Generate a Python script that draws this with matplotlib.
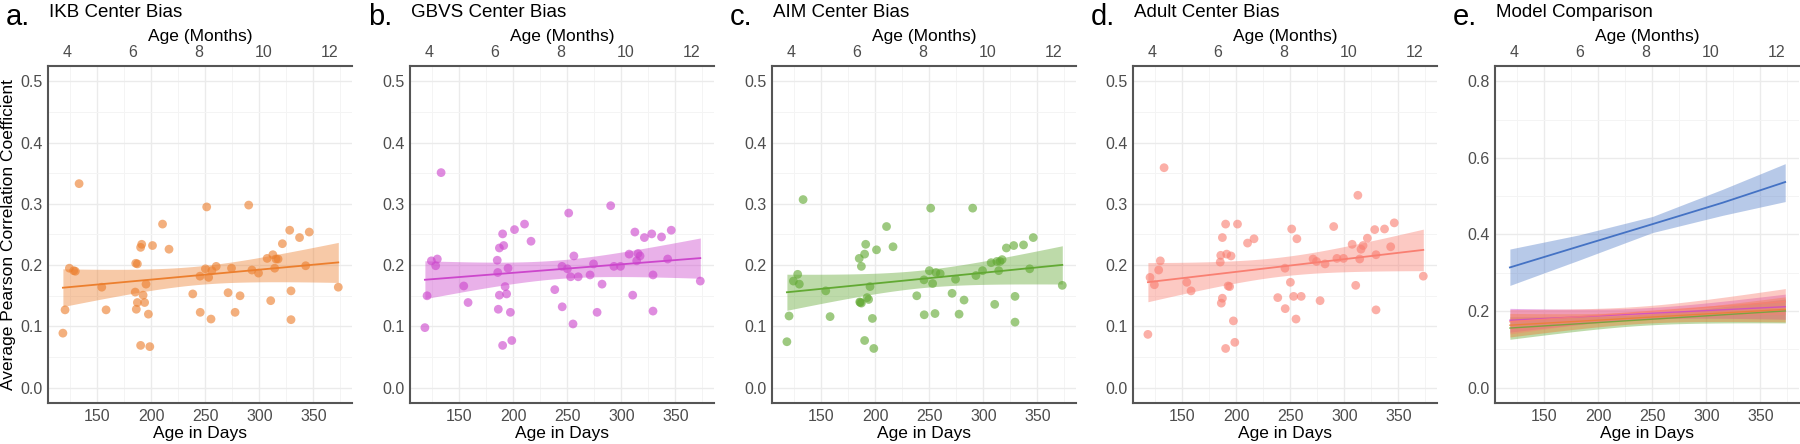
import numpy as np
import matplotlib
matplotlib.use('Agg')
import matplotlib.pyplot as plt
from matplotlib.ticker import MultipleLocator, FixedLocator

plt.rcParams['font.family'] = ['Liberation Sans', 'DejaVu Sans']

# ---------------- data ----------------
age_days = [118, 120, 124, 128, 129.5, 133, 154, 158, 185, 185.5, 186, 187, 187,
            190, 190, 191, 192.3, 193.7, 195, 197.2, 198.5, 201, 210.3, 216.3,
            238.3, 245, 245.2, 250, 251.2, 253, 255.2, 256, 260, 271, 274.2,
            277.5, 282.1, 290.1, 293.1, 299.2, 307.2, 310.5, 312.5, 314.2,
            315.4, 317.3, 321.3, 328.1, 329.3, 329.3, 337.2, 342.9, 346.2, 373.1]

ikb = [0.089, 0.127, 0.195, 0.191, 0.190, 0.333, 0.164, 0.127, 0.156, 0.203,
       0.128, 0.202, 0.139, 0.069, 0.229, 0.234, 0.151, 0.139, 0.169, 0.120,
       0.067, 0.232, 0.267, 0.226, 0.153, 0.182, 0.123, 0.194, 0.295, 0.180,
       0.112, 0.191, 0.198, 0.155, 0.195, 0.123, 0.150, 0.298, 0.192, 0.187,
       0.211, 0.142, 0.217, 0.195, 0.210, 0.210, 0.235, 0.257, 0.158, 0.111,
       0.245, 0.199, 0.254, 0.164]

gbvs = [0.098, 0.150, 0.207, 0.199, 0.210, 0.351, 0.166, 0.139, 0.208, 0.188,
        0.128, 0.151, 0.228, 0.069, 0.251, 0.232, 0.165, 0.153, 0.195, 0.123,
        0.077, 0.258, 0.267, 0.239, 0.160, 0.198, 0.132, 0.194, 0.285, 0.181,
        0.104, 0.215, 0.181, 0.184, 0.202, 0.123, 0.169, 0.297, 0.198, 0.198,
        0.218, 0.151, 0.254, 0.207, 0.219, 0.215, 0.245, 0.251, 0.184, 0.125,
        0.246, 0.210, 0.257, 0.174]

aim = [0.075, 0.117, 0.174, 0.185, 0.169, 0.307, 0.158, 0.116, 0.211, 0.140,
       0.139, 0.198, 0.138, 0.077, 0.218, 0.234, 0.147, 0.144, 0.165, 0.113,
       0.064, 0.225, 0.263, 0.230, 0.150, 0.176, 0.119, 0.191, 0.293, 0.170,
       0.121, 0.188, 0.186, 0.154, 0.177, 0.120, 0.143, 0.293, 0.183, 0.191,
       0.204, 0.136, 0.206, 0.191, 0.206, 0.209, 0.228, 0.232, 0.149, 0.107,
       0.233, 0.194, 0.245, 0.167]

adult = [0.087, 0.180, 0.168, 0.192, 0.207, 0.359, 0.172, 0.158, 0.205, 0.216,
         0.138, 0.146, 0.245, 0.064, 0.267, 0.218, 0.166, 0.165, 0.215, 0.109,
         0.074, 0.267, 0.236, 0.243, 0.147, 0.195, 0.129, 0.172, 0.259, 0.149,
         0.112, 0.243, 0.149, 0.210, 0.206, 0.142, 0.202, 0.263, 0.211, 0.211,
         0.234, 0.167, 0.314, 0.210, 0.226, 0.232, 0.244, 0.258, 0.217, 0.127,
         0.259, 0.230, 0.269, 0.182]

# comparison model (blue) fit and band
blue_age = [118, 182, 250, 315, 373]
blue_fit = [0.314, 0.369, 0.427, 0.483, 0.537]
blue_lo = [0.267, 0.333, 0.405, 0.450, 0.486]
blue_hi = [0.362, 0.399, 0.447, 0.518, 0.585]

letters = ['a.', 'b.', 'c.', 'd.', 'e.']
titles = ['IKB Center Bias', 'GBVS Center Bias', 'AIM Center Bias',
          'Adult Center Bias', 'Model Comparison']
day_ticks = [150, 200, 250, 300, 350]
month_ticks = [4, 6, 8, 10, 12]
y_ticks = [0.0, 0.1, 0.2, 0.3, 0.4, 0.5]
y_ticks_e = [0.0, 0.2, 0.4, 0.6, 0.8]

series = [ikb, gbvs, aim, adult]
colors = ['#EC7F2E', '#CC46CC', '#62A933', '#F97F72']
blue = '#4472C4'
comparison_order = [2, 1, 0, 3]  # drawing order of the four bands in panel e

DAYS_PER_MONTH = 30.4375
T_CRIT = 2.007  # t(0.975, df=52)


def lm_ci(x, y, xs):
    x = np.asarray(x, float)
    y = np.asarray(y, float)
    n = len(x)
    b, a = np.polyfit(x, y, 1)
    resid = y - (a + b * x)
    s = np.sqrt(np.sum(resid ** 2) / (n - 2))
    xm = x.mean()
    sxx = np.sum((x - xm) ** 2)
    fit = a + b * xs
    se = s * np.sqrt(1.0 / n + (xs - xm) ** 2 / sxx)
    return fit, fit - T_CRIT * se, fit + T_CRIT * se


W, H = 1800, 444
fig = plt.figure(figsize=(W / 100, H / 100), dpi=100)

lefts = [48, 410, 772, 1133, 1495]
ax_w, ax_top, ax_bot = 304, 66, 403

xs = np.linspace(min(age_days), max(age_days), 120)
xlim = (104.2, 385.8)

tick_color = '#4D4D4D'
spine_color = '#555555'

for i in range(5):
    L = lefts[i]
    ax = fig.add_axes([L / W, (H - ax_bot) / H, ax_w / W, (ax_bot - ax_top) / H])
    ax.set_facecolor('white')
    ax.set_xlim(*xlim)
    if i < 4:
        ax.set_ylim(-0.025, 0.525)
        ax.yaxis.set_major_locator(FixedLocator(y_ticks))
        ax.yaxis.set_minor_locator(MultipleLocator(0.05))
        ax.set_yticklabels([f'{v:.1f}' for v in y_ticks])
    else:
        ax.set_ylim(-0.04, 0.84)
        ax.yaxis.set_major_locator(FixedLocator(y_ticks_e))
        ax.yaxis.set_minor_locator(MultipleLocator(0.1))
        ax.set_yticklabels([f'{v:.1f}' for v in y_ticks_e])
    ax.xaxis.set_major_locator(FixedLocator(day_ticks))
    ax.xaxis.set_minor_locator(MultipleLocator(25))
    ax.set_xticklabels([str(v) for v in day_ticks])

    ax.grid(True, which='major', color='#EBEBEB', linewidth=1.0)
    ax.grid(True, which='minor', color='#F4F4F4', linewidth=0.7)
    ax.set_axisbelow(True)
    ax.tick_params(which='both', length=0)
    ax.tick_params(axis='both', labelsize=11.5, labelcolor=tick_color, pad=4)

    for side in ['left', 'bottom', 'top']:
        ax.spines[side].set_color(spine_color)
        ax.spines[side].set_linewidth(1.5)
    ax.spines['right'].set_visible(False)

    ax.set_xlabel('Age in Days', fontsize=12.5, color='black', labelpad=2)
    if i == 0:
        ax.set_ylabel('Average Pearson Correlation Coefficient', fontsize=12.5,
                      color='black', labelpad=3)

    sec = ax.secondary_xaxis('top', functions=(lambda d: d / DAYS_PER_MONTH,
                                               lambda m: m * DAYS_PER_MONTH))
    sec.set_xticks(month_ticks)
    sec.set_xticklabels([str(m) for m in month_ticks])
    sec.tick_params(length=0, labelsize=11.5, labelcolor=tick_color, pad=4)
    sec.spines['top'].set_visible(False)
    sec.set_xlabel('Age (Months)', fontsize=12.5, color='black', labelpad=3)

    if i < 4:
        c = colors[i]
        y = series[i]
        ax.scatter(age_days, y, s=40, color=c, alpha=0.62, edgecolors='none', zorder=2)
        fit, lo, hi = lm_ci(age_days, y, xs)
        ax.fill_between(xs, lo, hi, color=c, alpha=0.42, linewidth=0, zorder=3)
        ax.plot(xs, fit, color=c, linewidth=1.3, zorder=4)
    else:
        ax.fill_between(blue_age, blue_lo, blue_hi, color=blue, alpha=0.38,
                        linewidth=0, zorder=3)
        ax.plot(blue_age, blue_fit, color=blue, linewidth=1.3, zorder=4)
        for k in comparison_order:
            fit, lo, hi = lm_ci(age_days, series[k], xs)
            ax.fill_between(xs, lo, hi, color=colors[k], alpha=0.42,
                            linewidth=0, zorder=3)
        for k in comparison_order:
            fit, lo, hi = lm_ci(age_days, series[k], xs)
            ax.plot(xs, fit, color=colors[k], linewidth=1.0, alpha=0.8, zorder=4)

    fig.text((L - 42) / W, 1 - 25 / H, letters[i], fontsize=21, color='black',
             ha='left', va='baseline')
    fig.text((L + 1) / W, 1 - 17 / H, titles[i], fontsize=13.5, color='black',
             ha='left', va='baseline')

fig.savefig('out.png', dpi=100, facecolor='white')
